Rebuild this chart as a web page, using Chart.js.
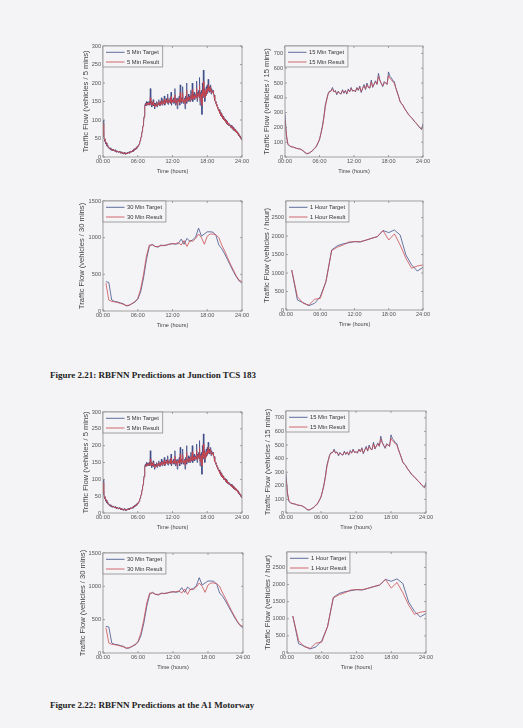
<!DOCTYPE html>
<html><head><meta charset="utf-8">
<script src="https://cdn.jsdelivr.net/npm/chart.js@4/dist/chart.umd.min.js"></script>
<style>
html,body{margin:0;padding:0;background:#f4f4f6;}
body{width:523px;height:728px;position:relative;overflow:hidden;}
canvas{position:absolute;}
.cap{position:absolute;left:50px;font:bold 9px "Liberation Serif","Times New Roman",serif;color:#222;white-space:nowrap;line-height:10px;}
</style></head><body>
<div class="cap" style="top:370px">Figure 2.21: RBFNN Predictions at Junction TCS 183</div>
<div class="cap" style="top:700px">Figure 2.22: RBFNN Predictions at the A1 Motorway</div>
<script>
// ---------- data ----------
const timeTicks = [0, 6, 12, 18, 24];
const timeLabels = ['00:00', '06:00', '12:00', '18:00', '24:00'];
const yTicks5 = [0, 50, 100, 150, 200, 250, 300];
const yTicks15 = [0, 100, 200, 300, 400, 500, 600, 700];
const yTicks30 = [0, 500, 1000, 1500];
const yTicks60 = [0, 500, 1000, 1500, 2000, 2500];

// 5-minute series, 00:00 .. 24:00
const target5 = [
 100,70,55,48,42,40,35,38,30,28,32,25,
 27,22,24,20,25,18,22,20,17,21,19,16,
 18,15,20,14,17,13,16,15,12,14,16,13,
 12,10,14,11,9,12,8,10,13,9,7,11,
 10,8,12,9,13,11,14,10,15,12,16,14,
 15,18,14,20,17,22,19,24,21,26,23,30,
 28,30,33,35,40,45,50,55,62,70,78,85,
 95,110,125,140,145,138,150,142,148,140,145,150,
 150,140,185,145,150,135,148,140,155,138,145,130,
 145,140,138,150,135,142,148,140,155,145,138,150,
 142,160,148,140,155,150,145,165,140,150,148,158,
 150,145,170,142,155,150,148,160,145,175,140,155,
 150,148,160,145,155,185,140,150,158,145,130,160,
 155,150,165,140,195,150,160,145,155,190,150,145,
 155,160,130,165,150,200,145,160,155,170,150,165,
 160,150,180,155,165,200,150,170,160,175,155,165,
 170,160,205,150,175,165,180,160,215,140,175,165,
 180,115,200,160,235,170,185,150,175,165,190,170,
 195,175,210,180,190,175,185,195,170,185,175,180,
 180,170,168,160,152,150,145,142,138,135,132,128,
 125,128,118,122,112,118,108,112,104,110,100,104,
 98,102,94,100,90,96,88,92,85,90,84,88,
 84,80,86,78,82,75,80,72,76,70,74,68,
 70,66,68,62,64,58,60,55,56,50,52,46,
 50];
const result5 = [
 90,75,58,50,45,41,38,37,33,30,30,27,
 26,24,23,22,23,20,21,20,18,20,19,17,
 17,16,18,15,16,14,15,15,13,14,15,13,
 13,11,13,11,10,11,9,10,12,10,8,10,
 10,9,11,10,12,11,13,11,14,13,15,14,
 15,17,15,19,18,21,20,23,22,25,24,28,
 27,30,32,35,39,44,49,54,60,68,76,84,
 93,107,122,136,142,140,146,143,146,141,144,147,
 146,142,160,148,148,140,145,142,150,141,143,135,
 141,140,139,146,138,141,145,141,150,145,140,147,
 143,152,148,142,151,149,146,157,143,148,147,154,
 150,147,160,146,152,150,149,156,148,163,145,152,
 150,149,156,148,153,168,146,149,155,147,140,154,
 153,151,160,146,175,153,157,149,154,172,153,148,
 153,157,142,158,152,180,150,157,155,163,153,160,
 158,153,168,157,162,182,156,165,160,168,158,163,
 166,162,185,158,170,165,173,163,195,152,168,165,
 172,140,180,165,205,172,180,160,172,167,182,172,
 186,177,195,181,186,178,183,189,174,181,176,178,
 178,170,166,160,153,150,146,142,138,135,131,128,
 124,125,119,120,113,116,109,111,105,108,101,103,
 99,100,95,98,91,94,89,91,86,88,85,86,
 83,81,84,78,80,76,78,73,75,71,73,68,
 69,66,67,63,63,59,59,56,55,51,51,47,
 48];

// 15-minute series, 00:00 .. 24:00
const target15 = [
 290,140,85,75, 70,68,66,62, 58,56,55,52, 45,38,28,22,
 22,28,35,40, 55,60,75,95, 117,160,210,270, 350,390,430,445,
 445,470,440,450, 420,445,430,425, 455,430,450,425, 460,440,470,445,
 450,440,470,450, 480,435,465,490, 455,500,470,465, 520,470,495,515,
 490,565,520,495, 475,510,500,490, 575,545,535,515, 510,470,440,410,
 375,360,350,330, 315,300,285,275, 265,255,240,230, 220,205,195,185,
 225];
const result15 = [
 250,150,90,78, 72,68,66,63, 59,57,55,52, 46,40,31,25,
 24,28,35,42, 52,62,78,98, 120,158,200,260, 335,385,425,440,
 445,460,442,445, 428,440,432,428, 448,435,447,430, 452,442,462,447,
 450,444,465,452, 472,442,462,480, 460,488,472,467, 508,475,492,508,
 492,545,515,498, 482,500,502,492, 550,530,522,508, 500,468,438,410,
 378,362,350,332, 316,302,287,276, 265,254,242,232, 220,208,198,190,
 205];

// 30-minute series, 00:30 .. 24:00
const target30 = [
 400,390,150,130,125,110,100,70,75,100,120,160,
 260,450,700,880,910,880,870,900,890,900,910,920,
 910,920,980,910,990,950,970,1010,1130,1020,1050,1080,
 1080,1075,1030,900,850,780,700,620,540,470,410,380];
const result30 = [
 380,150,130,125,115,105,90,75,80,100,130,170,
 300,500,750,900,900,880,880,890,895,900,915,915,
 920,930,900,960,880,960,950,990,1050,1000,910,1020,
 1050,1050,1040,1000,900,820,730,640,560,480,420,400];

// 1-hour series, 01:00 .. 24:00
const target60 = [1083,270,200,117,180,360,770,1625,1740,1790,1820,1850,
 1840,1890,1940,1985,2150,2095,2165,2030,1490,1220,1055,1155];
const result60 = [1080,360,180,135,290,315,770,1610,1700,1760,1840,1850,
 1850,1890,1940,1985,2150,1895,2060,1760,1400,1130,1190,1220];

const names5 = ['5 Min Target', '5 Min Result'];
const names15 = ['15 Min Target', '15 Min Result'];
const names30 = ['30 Min Target', '30 Min Result'];
const names60 = ['1 Hour Target', '1 Hour Result'];
const yTitle5 = 'Traffic Flow (vehicles / 5 mins)';
const yTitle15 = 'Traffic Flow (vehicles / 15 mins)';
const yTitle30 = 'Traffic Flow (vehicles / 30 mins)';
const yTitle60 = 'Traffic Flow (vehicles / hour)';
const xTitle = 'Time (hours)';

// ---------- drawing ----------
const F = '"Liberation Sans", Arial, Helvetica, sans-serif';
const BG = '#f4f4f6';
const TGT = '#3a4a86';
const RES = '#c8444c';

function series(values, start, step) {
  return values.map((v, i) => ({x: start + i * step, y: v}));
}

const frame = {
  id: 'frame',
  afterDatasetsDraw(chart) {
    const {ctx, chartArea: a, scales: {x, y}} = chart;
    ctx.save();
    ctx.strokeStyle = '#8c8c8c';
    ctx.lineWidth = 0.8;
    ctx.strokeRect(a.left, a.top, a.right - a.left, a.bottom - a.top);
    const tl = 2;
    ctx.beginPath();
    x.ticks.forEach(t => {
      const p = x.getPixelForValue(t.value);
      ctx.moveTo(p, a.bottom); ctx.lineTo(p, a.bottom - tl);
      ctx.moveTo(p, a.top); ctx.lineTo(p, a.top + tl);
    });
    y.ticks.forEach(t => {
      const p = y.getPixelForValue(t.value);
      ctx.moveTo(a.left, p); ctx.lineTo(a.left + tl, p);
      ctx.moveTo(a.right, p); ctx.lineTo(a.right - tl, p);
    });
    ctx.stroke();
    // legend box
    const ds = chart.data.datasets;
    ctx.font = '5.8px ' + F;
    const tw = Math.max(...ds.map(d => ctx.measureText(d.label).width));
    const x0 = a.left, y0 = a.top, w = 24 + tw + 3.5, h = 21;
    ctx.fillStyle = BG;
    ctx.fillRect(x0, y0, w, h);
    ctx.strokeStyle = '#8c8c8c';
    ctx.strokeRect(x0, y0, w, h);
    ds.forEach((d, i) => {
      const yy = y0 + 6.3 + i * 9.7;
      ctx.strokeStyle = d.borderColor;
      ctx.lineWidth = 0.8;
      ctx.beginPath(); ctx.moveTo(x0 + 3, yy); ctx.lineTo(x0 + 21.5, yy); ctx.stroke();
      ctx.fillStyle = '#333';
      ctx.textBaseline = 'middle';
      ctx.fillText(d.label, x0 + 24, yy + 0.3);
    });
    ctx.restore();
  }
};

const panels = [
  {L:103,T:46,R:242,B:157, tgt:target5, res:result5, start:0, step:5/60, ymax:300, yticks:yTicks5, yt:yTitle5, names:names5, d:17},
  {L:285,T:46,R:423,B:157, tgt:target15, res:result15, start:0, step:0.25, ymax:750, yticks:yTicks15, yt:yTitle15, names:names15, d:18.3},
  {L:103,T:201,R:242,B:311, tgt:target30, res:result30, start:0.5, step:0.5, ymax:1500, yticks:yTicks30, yt:yTitle30, names:names30, d:21},
  {L:286,T:201,R:423,B:310, tgt:target60, res:result60, start:1, step:1, ymax:2950, yticks:yTicks60, yt:yTitle60, names:names60, d:19},
  {L:103,T:412,R:242,B:513, tgt:target5, res:result5, start:0, step:5/60, ymax:300, yticks:yTicks5, yt:yTitle5, names:names5, d:17.3},
  {L:286,T:411,R:426,B:513, tgt:target15, res:result15, start:0, step:0.25, ymax:750, yticks:yTicks15, yt:yTitle15, names:names15, d:18.5},
  {L:103,T:553,R:243,B:653, tgt:target30, res:result30, start:0.5, step:0.5, ymax:1500, yticks:yTicks30, yt:yTitle30, names:names30, d:20.3},
  {L:287,T:552,R:426,B:653, tgt:target60, res:result60, start:1, step:1, ymax:2950, yticks:yTicks60, yt:yTitle60, names:names60, d:19.5}
];

const YW = 26, PT = 6, PR = 12, XH = 18;
panels.forEach(p => {
  const c = document.createElement('canvas');
  const w = (p.R - p.L) + YW + PR, h = (p.B - p.T) + PT + XH;
  c.width = w; c.height = h;
  c.style.left = (p.L - YW) + 'px';
  c.style.top = (p.T - PT) + 'px';
  c.style.width = w + 'px'; c.style.height = h + 'px';
  document.body.appendChild(c);
  new Chart(c, {
    type: 'line',
    data: {datasets: [
      {label: p.names[0], data: series(p.tgt, p.start, p.step), borderColor: TGT, borderWidth: 0.75, pointRadius: 0, tension: 0, order: 2},
      {label: p.names[1], data: series(p.res, p.start, p.step), borderColor: RES, borderWidth: 0.75, pointRadius: 0, tension: 0, order: 1}
    ]},
    options: {
      responsive: false, animation: false, devicePixelRatio: 1,
      layout: {padding: {left: 0, top: PT, right: PR, bottom: 0}},
      plugins: {legend: {display: false}, tooltip: {enabled: false}},
      scales: {
        x: {
          type: 'linear', min: 0, max: 24, bounds: 'data',
          grid: {display: false, drawTicks: false}, border: {display: false},
          afterBuildTicks: s => { s.ticks = timeTicks.map(v => ({value: v})); },
          ticks: {padding: 1.5, color: '#555', maxRotation: 0, autoSkip: false,
                  font: {family: F, size: 5.6},
                  callback: v => timeLabels[timeTicks.indexOf(v)]},
          title: {display: true, text: xTitle, color: '#444', font: {family: F, size: 5.6}, padding: {top: 0, bottom: 0.6}},
          afterFit: s => { s.height = XH; }
        },
        y: {
          type: 'linear', min: 0, max: p.ymax, bounds: 'data',
          grid: {display: false, drawTicks: false}, border: {display: false},
          afterBuildTicks: s => { s.ticks = p.yticks.map(v => ({value: v})); },
          ticks: {padding: 2, color: '#555', autoSkip: false, font: {family: F, size: 5.6},
                  callback: v => String(v)},
          title: {display: true, text: p.yt, color: '#444', font: {family: F, size: 7.6}, padding: {top: Math.max(0, 21.44 - p.d), bottom: 0}},
          afterFit: s => { s.width = YW; }
        }
      }
    },
    plugins: [frame]
  });
});
</script>
</body></html>
